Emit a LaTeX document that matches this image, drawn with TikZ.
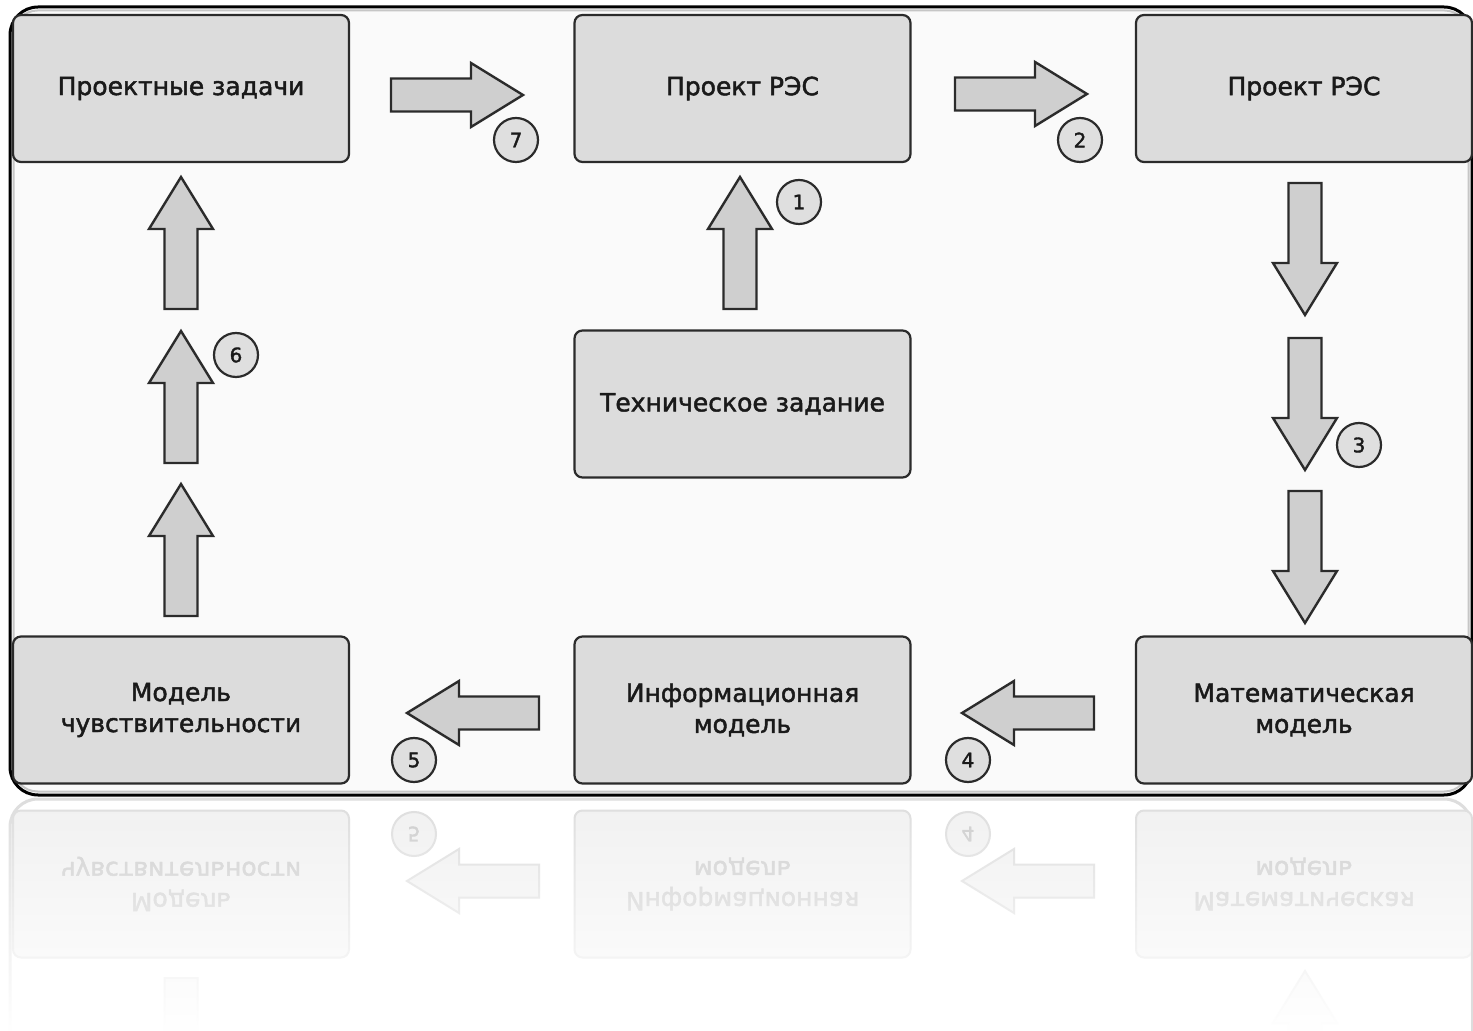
\documentclass[tikz,border=0pt]{standalone}
\usepackage{fontspec}
\setmainfont{DejaVu Sans}
\newfontfamily\boxfont[FakeBold=1.8]{DejaVu Sans}
\usetikzlibrary{fadings}
\definecolor{boxfill}{HTML}{DCDCDC}
\definecolor{arrfill}{HTML}{CFCFCF}
\definecolor{edge}{HTML}{2B2B2B}
\definecolor{panel}{HTML}{FAFAFA}
\definecolor{txt}{HTML}{1A1A1A}
\definecolor{rfill}{HTML}{F1F1F1}
\definecolor{rdraw}{HTML}{DDDDDD}
\definecolor{rtxt}{HTML}{CCCCCC}
\tikzfading[name=fadeup, top color=transparent!100, bottom color=transparent!0]
\begin{document}
\begin{tikzpicture}[x=0.5pt,y=-0.5pt,
  box/.style={draw=edge, fill=boxfill, line width=1.1pt, rounded corners=4pt,
    minimum width=168pt, minimum height=73.5pt, inner sep=0pt, align=center,
    text=txt, font=\boxfont\fontsize{12.5pt}{15.5pt}\selectfont},
  num/.style={circle, draw=edge, fill=boxfill!90!white, line width=1.1pt,
    minimum size=22pt, inner sep=0pt, text=txt, font=\boxfont\fontsize{10pt}{10pt}\selectfont},
  arrowshape/.style={draw=edge, fill=arrfill, line width=1.2pt, line join=miter},
  framestyle/.style={draw=black, line width=1.5pt, fill=panel, rounded corners=14pt},
  blockarrow/.pic={\path[arrowshape] (0,-16.5) -- (80,-16.5) -- (80,-32) -- (132,0)
      -- (80,32) -- (80,16.5) -- (0,16.5) -- cycle;}
]
\useasboundingbox (0,0) rectangle (1473,1031);
\fill[white] (0,0) rectangle (1473,1031);

% ---------- reflection ----------
\begin{scope}
\clip (0,797) rectangle (1473,1031);
\begin{scope}[shift={(0,1594)}, yscale=-1,
  box/.style={draw=rdraw, fill=rfill, line width=1pt, rounded corners=4pt,
    minimum width=168pt, minimum height=73.5pt, inner sep=0pt, align=center,
    text=rtxt, font=\boxfont\fontsize{12.5pt}{15.5pt}\selectfont, transform shape},
  num/.style={circle, draw=rdraw, fill=rfill, line width=1pt,
    minimum size=22pt, inner sep=0pt, text=rtxt, font=\boxfont\fontsize{10pt}{10pt}\selectfont, transform shape},
  arrowshape/.style={draw=rdraw, fill=rfill, line width=1pt, line join=miter},
  framestyle/.style={draw=rdraw, line width=1.5pt, fill=white, rounded corners=14pt}]
  \path[framestyle] (10,7) rectangle (1472,795);
  \node[box] (rb5) at (181,710) {Модель\\чувствительности};
  \node[box] (rb6) at (742.5,710) {Информационная\\модель};
  \node[box] (rb7) at (1304,710) {Математическая\\модель};
  \pic[rotate=180] (ra4) at (1094,713) {blockarrow};
  \pic[rotate=180] (ra5) at (539,713) {blockarrow};
  \pic[rotate=-90] (ra6c) at (181,616) {blockarrow};
  \pic[rotate=90] (ra3c) at (1305,491) {blockarrow};
  \node[num] (rc4) at (968,760) {4};
  \node[num] (rc5) at (414,760) {5};
\end{scope}
\fill[white, path fading=fadeup] (0,797) rectangle (1473,1031);
\end{scope}

% ---------- main panel ----------
\path[framestyle] (10,7) rectangle (1472,795);
\draw[gray!45, line width=1pt, rounded corners=12pt] (13.5,10.5) rectangle (1468.5,791.5);

\node[box] (b1) at (181,88.5) {Проектные задачи};
\node[box] (b2) at (742.5,88.5) {Проект РЭС};
\node[box] (b3) at (1304,88.5) {Проект РЭС};
\node[box] (b4) at (742.5,404) {Техническое задание};
\node[box] (b5) at (181,710) {Модель\\чувствительности};
\node[box] (b6) at (742.5,710) {Информационная\\модель};
\node[box] (b7) at (1304,710) {Математическая\\модель};

% block arrows
\pic (a7) at (391,95) {blockarrow};
\pic (a2) at (955,94) {blockarrow};
\pic[rotate=90] (a1) at (740,309) {blockarrow};
\pic[rotate=-90] (a3a) at (1305,183) {blockarrow};
\pic[rotate=-90] (a3b) at (1305,338) {blockarrow};
\pic[rotate=-90] (a3c) at (1305,491) {blockarrow};
\pic[rotate=180] (a4) at (1094,713) {blockarrow};
\pic[rotate=180] (a5) at (539,713) {blockarrow};
\pic[rotate=90] (a6a) at (181,309) {blockarrow};
\pic[rotate=90] (a6b) at (181,463) {blockarrow};
\pic[rotate=90] (a6c) at (181,616) {blockarrow};

% numbers
\node[num] (c1) at (799,202) {1};
\node[num] (c2) at (1080,140) {2};
\node[num] (c3) at (1359,445) {3};
\node[num] (c4) at (968,760) {4};
\node[num] (c5) at (414,760) {5};
\node[num] (c6) at (236,355) {6};
\node[num] (c7) at (516,140) {7};
\end{tikzpicture}
\end{document}
